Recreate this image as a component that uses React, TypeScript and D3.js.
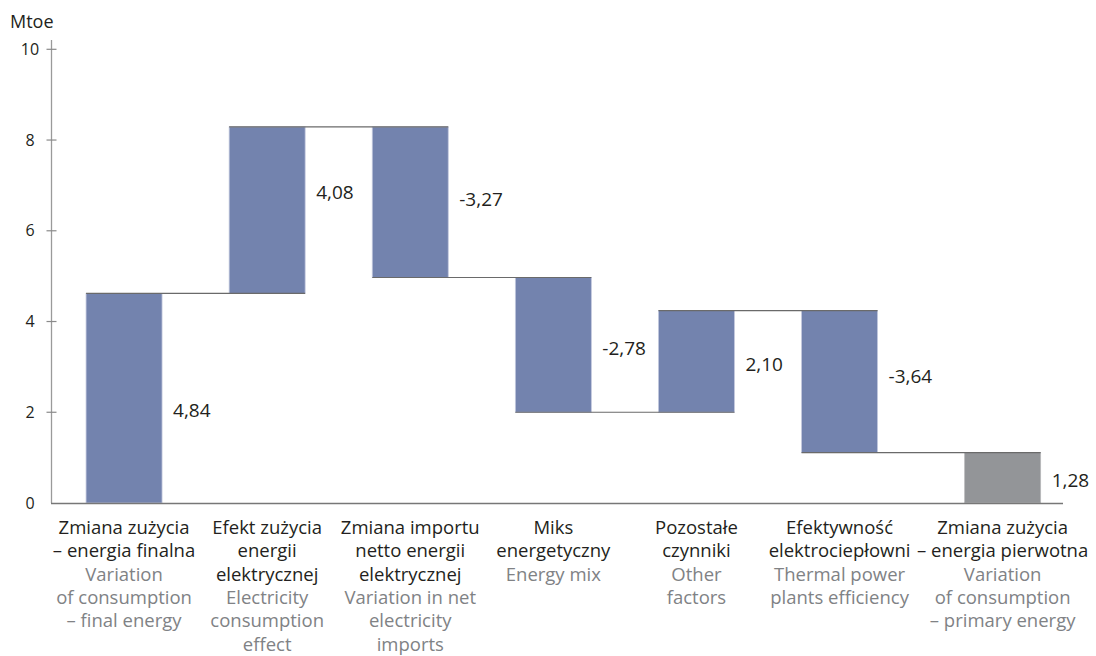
import React from "react";
import * as d3 from "d3";

const categoriesPl: string[][] = [
  ["Zmiana zużycia", "– energia finalna"],
  ["Efekt zużycia", "energii", "elektrycznej"],
  ["Zmiana importu", "netto energii", "elektrycznej"],
  ["Miks", "energetyczny"],
  ["Pozostałe", "czynniki"],
  ["Efektywność", "elektrociepłowni"],
  ["Zmiana zużycia", "– energia pierwotna"],
];
const categoriesEn: string[][] = [
  ["Variation", "of consumption", "– final energy"],
  ["Electricity", "consumption", "effect"],
  ["Variation in net", "electricity", "imports"],
  ["Energy mix"],
  ["Other", "factors"],
  ["Thermal power", "plants efficiency"],
  ["Variation", "of consumption", "– primary energy"],
];
// bar changes as drawn
const barDeltas = [4.62, 3.67, -3.32, -2.97, 2.24, -3.13];
const totalValue = 1.11;
const valueLabels = ["4,84", "4,08", "-3,27", "-2,78", "2,10", "-3,64", "1,28"];
const labelAt = [2.05, 6.85, 6.7, 3.4, 3.05, 2.8, 0.5];
const yTicks = [0, 2, 4, 6, 8, 10];

const W = 1096;
const H = 656;
const FONT = "'Open Sans', 'Noto Sans', sans-serif";
const TOTAL_GAP = 20;

export default function App() {
  const y = d3.scaleLinear().domain([0, 10]).range([503, 49.3]);
  const band = d3
    .scaleBand<number>()
    .domain(d3.range(7))
    .range([52.5, 1054.2])
    .paddingInner(0.469)
    .paddingOuter(0.2345);
  const bw = band.bandwidth();
  const x = (i: number) => band(i)! + (i === 6 ? TOTAL_GAP : 0);

  const cum = [0, ...d3.cumsum(barDeltas)];
  const bars = barDeltas.map((d, i) => ({
    i,
    from: cum[i],
    to: cum[i + 1],
    total: false,
  }));
  bars.push({ i: 6, from: 0, to: totalValue, total: true });

  const connectors = bars.slice(0, 6).map((b, i) => ({
    x1: x(i),
    x2: x(i + 1) + bw,
    v: b.to,
  }));

  const lh = 23.3;

  return (
    <svg
      width={W}
      height={H}
      style={{ position: "absolute", left: 0, top: 0, background: "#fff" }}
      fontFamily={FONT}
    >
      {/* y axis */}
      <line x1={51.5} x2={51.5} y1={40} y2={503} stroke="#9a9a9a" strokeWidth={1.3} />
      {yTicks.map((t) => (
        <g key={t}>
          {t > 0 && (
            <line x1={46.5} x2={56.5} y1={y(t)} y2={y(t)} stroke="#8a8a8a" strokeWidth={1.2} />
          )}
          <text x={30} y={y(t)} dy="0.35em" textAnchor="middle" fontSize={16} fill="#231f20">
            {t}
          </text>
        </g>
      ))}
      <text x={10} y={28} fontSize={18} fill="#231f20">
        Mtoe
      </text>

      {/* bars */}
      {bars.map((b) => (
        <rect
          key={b.i}
          x={x(b.i)}
          y={y(Math.max(b.from, b.to))}
          width={bw}
          height={Math.abs(y(b.from) - y(b.to))}
          fill={b.total ? "#939598" : "#7383ae"}
          stroke={b.total ? "#b8b9bb" : "#c3c9de"}
          strokeWidth={0.8}
        />
      ))}

      {/* connectors */}
      {connectors.map((c, i) => (
        <line key={i} x1={c.x1} x2={c.x2} y1={y(c.v)} y2={y(c.v)} stroke="#6a6a6a" strokeWidth={1.2} />
      ))}

      {/* x axis */}
      <line x1={51} x2={1063} y1={503.5} y2={503.5} stroke="#777" strokeWidth={1.4} />

      {/* value labels */}
      {valueLabels.map((l, i) => (
        <text
          key={i}
          x={x(i) + bw + 11}
          y={y(labelAt[i])}
          dy="0.35em"
          fontSize={19}
          fill="#231f20"
        >
          {l}
        </text>
      ))}

      {/* category labels */}
      {categoriesPl.map((pl, i) => {
        const cx = x(i) + bw / 2;
        const lines = [
          ...pl.map((t) => ({ t, en: false })),
          ...categoriesEn[i].map((t) => ({ t, en: true })),
        ];
        return (
          <text key={i} textAnchor="middle" fontSize={18.5}>
            {lines.map((ln, k) => (
              <tspan key={k} x={cx} y={534 + k * lh} fill={ln.en ? "#808285" : "#231f20"}>
                {ln.t}
              </tspan>
            ))}
          </text>
        );
      })}
    </svg>
  );
}
